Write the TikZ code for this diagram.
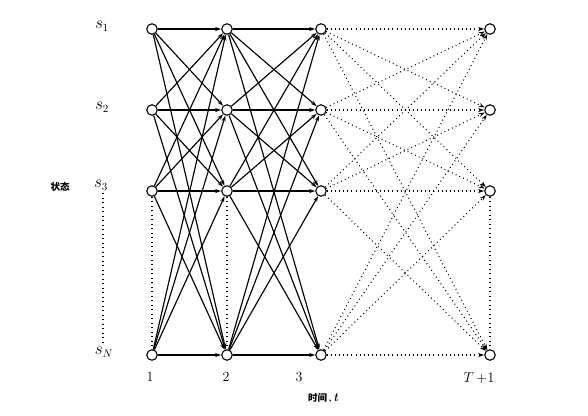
\documentclass[tikz,border=0pt]{standalone}
\usepackage{fontspec}
\newfontfamily\cjk{Noto Sans CJK SC}
\usetikzlibrary{arrows.meta}
\begin{document}
\begin{tikzpicture}[x=1pt,y=-1pt,
  state/.style={circle,draw,line width=1.1pt,minimum size=10.5pt,inner sep=0pt},
  solidarr/.style={line width=1.15pt,-{Stealth[length=6pt,width=4pt]}},
  dotarr/.style={line width=1.1pt,dash pattern=on 0.9pt off 3.2pt,-{Stealth[length=6pt,width=4pt]}},
  dotline/.style={line width=1.1pt,dash pattern=on 0.9pt off 3.6pt},
  slabel/.style={font=\fontsize{16}{18}\selectfont},
  tlabel/.style={font=\fontsize{14}{16}\selectfont}]
\useasboundingbox (0,0) rectangle (588,415);
% nodes
\foreach \c/\x in {1/152,2/227,3/321,4/490}{
  \foreach \r/\y in {1/29,2/110,3/191,4/355}{
    \node[state] (c\c r\r) at (\x,\y) {};
  }
}
% labels
\node[slabel] (l1) at (102,26) {$s_1$};
\node[slabel] (l2) at (102,107) {$s_2$};
\node[slabel] (l3) at (101,185) {$s_3$};
\node[slabel] (l4) at (104,352) {$s_N$};
\node[font=\cjk\bfseries\fontsize{9.5}{11}\selectfont] (st) at (60,187) {状态};
\node[tlabel] (t1) at (150,377) {1};
\node[tlabel] (t2) at (226,377) {2};
\node[tlabel] (t3) at (299,377) {3};
\node[tlabel] (t4) at (479,378) {$T\,{+}1$};
\node[font=\cjk\bfseries\fontsize{9.5}{11}\selectfont] (tm) at (323,398) {时间\,{\normalfont\bfseries ,}\,{\fontsize{12}{14}\selectfont\normalfont\bfseries\itshape t}};
% vertical dotted lines
\coordinate (v0a) at (103,193);
\coordinate (v0b) at (103,342);
\draw[dotline] (v0a) -- (v0b);
\draw[dotline] (c1r3) -- (c1r4);
\draw[dotline] (c2r3) -- (c2r4);
\draw[dotline] (c4r3) -- (c4r4);
% transitions
\foreach \a in {1,2,3,4}{
  \foreach \b in {1,2,3,4}{
    \draw[solidarr] (c1r\a) -- (c2r\b);
    \draw[solidarr] (c2r\a) -- (c3r\b);
    \draw[dotarr] (c3r\a) -- (c4r\b);
  }
}
\end{tikzpicture}
\end{document}
